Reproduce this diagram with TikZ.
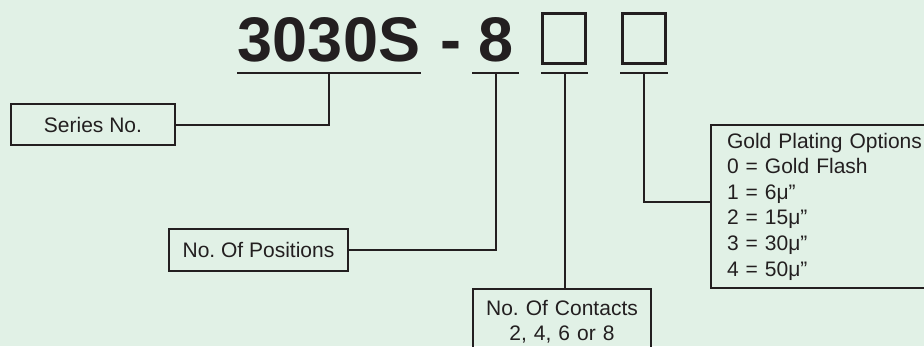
\documentclass[tikz,border=0pt]{standalone}
\usepackage{fontspec}
\setmainfont{Liberation Sans}
\usetikzlibrary{positioning}
\definecolor{bgmint}{RGB}{225,241,230}
\definecolor{ink}{RGB}{35,31,32}
\frenchspacing

\begin{document}
\begin{tikzpicture}[x=1pt,y=-1pt,
  code/.style={text=ink,font=\fontsize{63}{63}\selectfont\bfseries,inner sep=0pt,anchor=base},
  slot/.style={draw=ink,line width=3pt,minimum width=43pt,minimum height=50pt,inner sep=0pt},
  lbl/.style={draw=ink,text=ink,line width=2pt,font=\fontsize{21}{25.6}\selectfont,inner sep=0pt},
  link/.style={draw=ink,line width=2pt},
  uline/.style={draw=ink,line width=1.8pt}]
  \fill[bgmint] (0,0) rectangle (924,346);
  \clip (0,0) rectangle (924,346);

  \node[code] (series no) at (329,61) {3030S};
  \node[code] (dash) at (451,61) {-};
  \node[code] (pos no) at (496.5,61) {8};
  \node[slot] (opt1) at (564,38.5) {};
  \node[slot] (opt2) at (643.5,38.5) {};
  \foreach \a/\b/\n in {237/421/s,472/519/p,541/588/c,620/668/g}{
    \draw[uline] (\a,73) -- (\b,73);
    \coordinate (u\n) at ({(\a+\b)/2},73);
  }

  \node[lbl,minimum width=164pt,minimum height=41pt] (series) at (93,124.5) {Series No.};
  \node[lbl,minimum width=179pt,minimum height=42pt] (positions) at (258.5,250) {No. Of Positions};
  \node[lbl,anchor=north,align=center,text width=170pt,inner xsep=4pt,inner ysep=11pt]
    (contacts) at (562,288) {No. Of Contacts\\2, 4, 6 or 8};
  \node[lbl,anchor=north west,align=left,text width=200pt,inner xsep=16pt,minimum height=163pt]
    (gold) at (710,124) {Gold Plating Options\\0 = Gold Flash\\1 = 6μ”\\2 = 15μ”\\3 = 30μ”\\4 = 50μ”};

  \draw[link] (us) |- (series.east);
  \draw[link] (up) |- (positions.east);
  \draw[link] (uc) -- (uc |- contacts.north);
  \draw[link] (ug) |- ([yshift=5pt]gold.west);
\end{tikzpicture}
\end{document}
